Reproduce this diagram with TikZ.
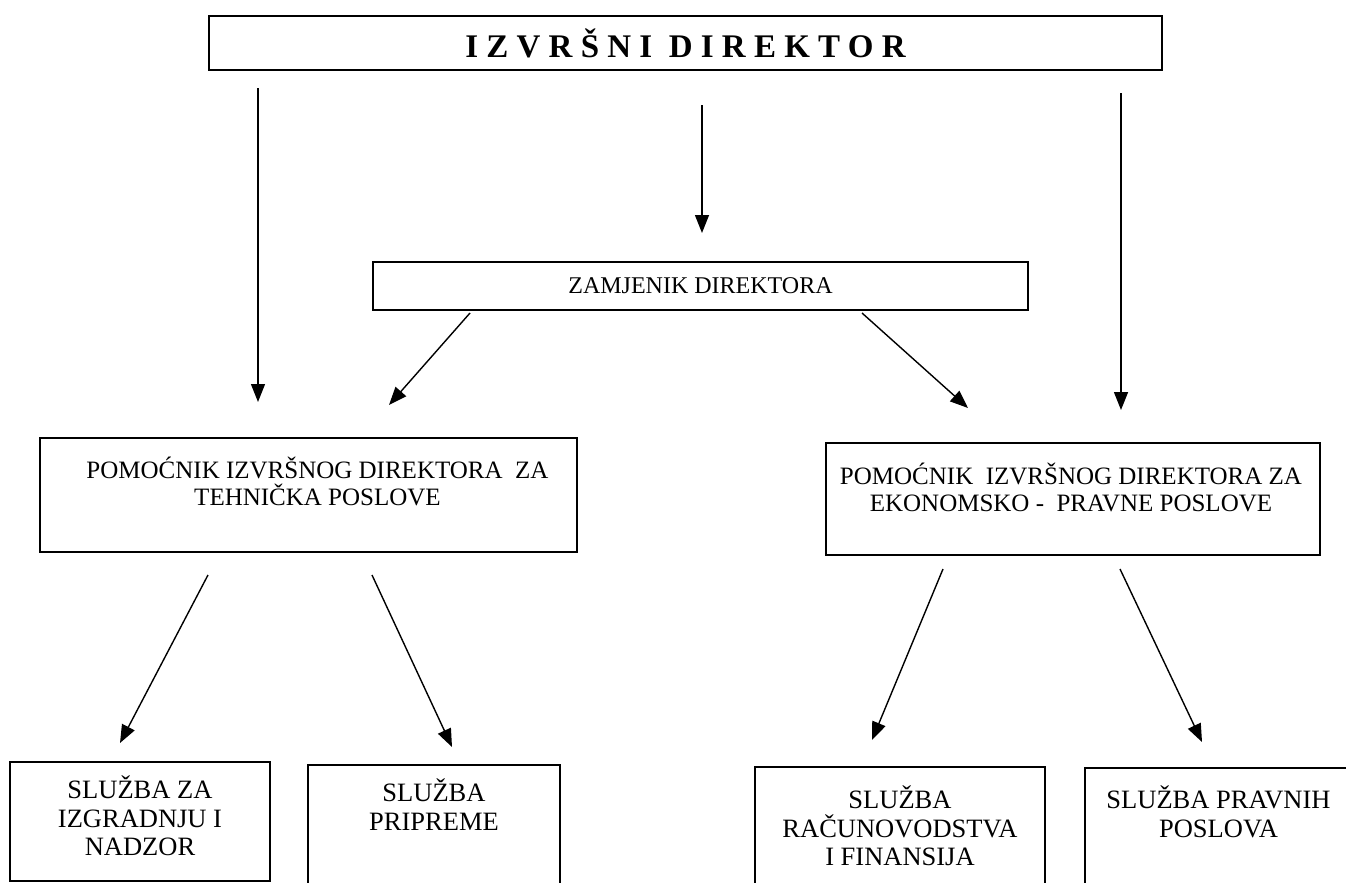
\documentclass[tikz,border=0pt]{standalone}
\usepackage{fontspec}
\setmainfont{Liberation Serif}
\usetikzlibrary{arrows.meta,positioning}

\begin{document}
\begin{tikzpicture}[x=1pt, y=-1pt,
    okvir/.style={draw=black, line width=1.8pt, inner sep=0pt, outer sep=0pt},
    tekst/.style={align=center, inner sep=0pt, font=\fontsize{25}{27}\selectfont},
    sluzba/.style={align=center, inner sep=0pt, font=\fontsize{26.5}{28.5}\selectfont},
    strelica/.style={black, line width=1.4pt, -{Triangle[length=18pt, width=14pt]}}]

            \useasboundingbox (0,0) rectangle (1346,883);
            \clip (0,0) rectangle (1346,883);

            \node[okvir, line width=2.6pt, minimum width=953, minimum height=54,
                  font=\fontsize{33}{36}\selectfont\bfseries\addfontfeature{LetterSpace=25}] (direktor) at (685.5,43) {IZVRŠNI DIREKTOR};
            \node[okvir, minimum width=655, minimum height=48, font=\fontsize{24}{28}\selectfont] (zamjenik) at (700.5,286) {ZAMJENIK DIREKTORA};

            \node[okvir, minimum width=537, minimum height=114] (tehnicki) at (308.5,495) {};
            \node[okvir, minimum width=494, minimum height=112] (ekonomski) at (1073,499) {};
            \node[tekst, below=19pt of tehnicki.north, xshift=9pt] (tehnickitxt) {POMOĆNIK IZVRŠNOG DIREKTORA\ \ ZA\\TEHNIČKA POSLOVE};
            \node[tekst, below=20pt of ekonomski.north, xshift=-2pt] (ekonomskitxt) {POMOĆNIK\ \ IZVRŠNOG DIREKTORA ZA\\EKONOMSKO -\ \ PRAVNE POSLOVE};

            \node[okvir, minimum width=260, minimum height=119] (izgradnja) at (140,821.5) {};
            \node[okvir, minimum width=252, minimum height=160] (priprema) at (434,845) {};
            \node[okvir, minimum width=290, minimum height=163] (racunovodstvo) at (900,848.5) {};
            \node[okvir, minimum width=267, minimum height=162] (pravna) at (1218.5,849) {};
            \node[sluzba, below=14pt of izgradnja.north] (izgradnjatxt) {SLUŽBA ZA\\IZGRADNJU I\\NADZOR};
            \node[sluzba, below=14pt of priprema.north] (pripreatxt) {SLUŽBA\\PRIPREME};
            \node[sluzba, below=19pt of racunovodstvo.north] (racunovodstvotxt) {SLUŽBA\\RAČUNOVODSTVA\\I FINANSIJA};
            \node[sluzba, below=18pt of pravna.north] (pravnatxt) {SLUŽBA PRAVNIH\\POSLOVA};

            \coordinate (a1) at (258,88);   \coordinate (b1) at (258,402);
            \coordinate (a2) at (702,105);  \coordinate (b2) at (702,233);
            \coordinate (a3) at (1121,93);  \coordinate (b3) at (1121,410);
            \coordinate (a4) at (470,313);  \coordinate (b4) at (389,405);
            \coordinate (a5) at (862,313);  \coordinate (b5) at (968,408);
            \coordinate (a6) at (208,575);  \coordinate (b6) at (120,743);
            \coordinate (a7) at (372,575);  \coordinate (b7) at (452,747);
            \coordinate (a8) at (943,569);  \coordinate (b8) at (872,740);
            \coordinate (a9) at (1120,569); \coordinate (b9) at (1202,742);

            \draw[strelica] (a1) -- (b1);
            \draw[strelica] (a2) -- (b2);
            \draw[strelica] (a3) -- (b3);
            \draw[strelica] (a4) -- (b4);
            \draw[strelica] (a5) -- (b5);
            \draw[strelica] (a6) -- (b6);
            \draw[strelica] (a7) -- (b7);
            \draw[strelica] (a8) -- (b8);
            \draw[strelica] (a9) -- (b9);
        \end{tikzpicture}
\end{document}
